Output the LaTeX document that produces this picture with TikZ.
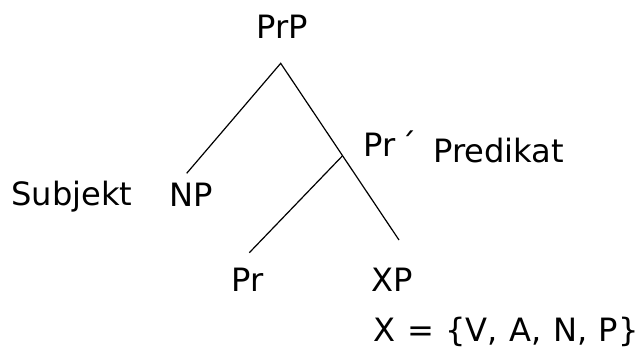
\documentclass[tikz,border=0pt]{standalone}
\usepackage{fontspec}
\setmainfont{DejaVu Sans}
\begin{document}
\begin{tikzpicture}[x=0.75pt,y=-0.75pt,
  lbl/.style={anchor=base west,inner sep=0pt,font=\fontsize{24.1pt}{28pt}\selectfont},
  branch/.style={line width=0.9pt,black}]
\useasboundingbox (0,0) rectangle (641,355);
\node[lbl] (prp) at (256,38.3) {PrP};
\node[lbl] (prbar) at (363,156) {Pr\,´};
\node[lbl] (pred) at (433,162.7) {Predikat};
\node[lbl] (subj) at (11,205) {Subjekt};
\node[lbl] (np) at (169.5,206.5) {NP};
\node[lbl] (pr) at (231.5,291.7) {Pr};
\node[lbl] (xp) at (371.5,291.7) {XP};
\node[lbl] (xset) at (373.5,341.7) {\spaceskip=0.355em X = \{V, A, N, P\}};
\coordinate (apex) at (280.7,63.3);
\coordinate (npend) at (186.7,173.3);
\coordinate (xpend) at (399,240);
\coordinate (bp) at (342.3,156);
\coordinate (prend) at (249.3,252.7);
\draw[branch] (npend) -- (apex) -- (xpend);
\draw[branch] (bp) -- (prend);
\end{tikzpicture}
\end{document}
